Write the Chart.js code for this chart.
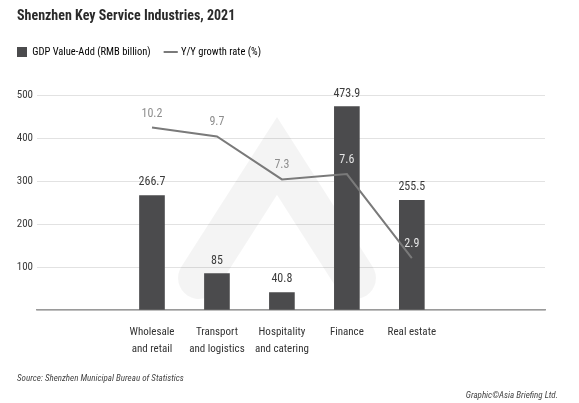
<!DOCTYPE html>
<html>
<head>
<meta charset="utf-8">
<script src="https://cdn.jsdelivr.net/npm/chart.js@4.4.0/dist/chart.umd.min.js"></script>
<style>
    html, body { margin: 0; padding: 0; background: #fff; }
    #wrap { width: 579px; height: 403px; position: relative; }
</style>
</head>
<body>
<div id="wrap"><canvas id="chart"></canvas></div>
<script>
const categories = [
    ['Wholesale', 'and retail'],
    ['Transport', 'and logistics'],
    ['Hospitality', 'and catering'],
    ['Finance'],
    ['Real estate']
];
const gdpValues = [266.7, 85, 40.8, 473.9, 255.5];
const growthRates = [10.2, 9.7, 7.3, 7.6, 2.9];
const yTickValues = [100, 200, 300, 400, 500];

const FONT = "'Roboto Condensed', 'DejaVu Sans Condensed', sans-serif";
Chart.defaults.font.family = FONT;
Chart.defaults.color = '#3a3a3a';

// extra room between legend and plot, and pull legend to the left edge
const legendGap = {
    id: 'legendGap',
    beforeInit(chart) {
        const fit = chart.legend.fit;
        chart.legend.fit = function () {
            fit.call(this);
            this.height += 28;
        };
    },
    afterLayout(chart) {
        chart.legend.left -= 15;
        chart.legend.right -= 15;
    }
};

// faint logo behind the bars
const watermark = {
    id: 'watermark',
    beforeDatasetsDraw(chart) {
        const ctx = chart.ctx;
        ctx.save();
        ctx.strokeStyle = 'rgba(0,0,0,0.045)';
        ctx.lineWidth = 42;
        ctx.lineCap = 'round';
        ctx.lineJoin = 'miter';
        ctx.beginPath();
        ctx.moveTo(199, 278);
        ctx.lineTo(277, 156);
        ctx.lineTo(355, 278);
        ctx.stroke();
        ctx.restore();
    }
};

const valueLabels = {
    id: 'valueLabels',
    afterDatasetsDraw(chart) {
        const ctx = chart.ctx;
        const bars = chart.getDatasetMeta(0).data;
        const pts = chart.getDatasetMeta(1).data;
        ctx.save();
        ctx.textAlign = 'center';
        ctx.textBaseline = 'middle';
        ctx.font = '12px ' + FONT;
        bars.forEach((b, i) => {
            ctx.fillStyle = '#3c3c3c';
            ctx.fillText(String(gdpValues[i]), b.x, b.y - 13);
        });
        pts.forEach((p, i) => {
            const ly = p.y - 14;
            const b = bars[i];
            const inBar = Math.abs(b.x - p.x) < b.width / 2 && ly > b.y;
            ctx.fillStyle = inBar ? '#e4e4e4' : '#8e8e8e';
            ctx.fillText(growthRates[i].toFixed(1), p.x, ly);
        });
        ctx.restore();
    },
    afterDraw(chart) {
        const ctx = chart.ctx;
        ctx.save();
        ctx.fillStyle = '#444';
        ctx.font = 'italic 9px ' + FONT;
        ctx.textBaseline = 'middle';
        ctx.textAlign = 'left';
        ctx.fillText('Source: Shenzhen Municipal Bureau of Statistics', 17, 379);
        ctx.textAlign = 'right';
        ctx.fillText('Graphic\u00A9Asia Briefing Ltd.', 558, 396);
        ctx.restore();
    }
};

new Chart(document.getElementById('chart'), {
    type: 'bar',
    data: {
        datasets: [{
            type: 'bar',
            label: 'GDP Value-Add (RMB billion)',
            data: gdpValues.map((v, i) => ({ x: i, y: v })),
            backgroundColor: '#4b4b4d',
            borderWidth: 0,
            barThickness: 25,
            yAxisID: 'y',
            order: 2
        }, {
            type: 'line',
            label: 'Y/Y growth rate (%)',
            data: growthRates.map((v, i) => ({ x: i, y: v })),
            borderColor: '#7a7a7a',
            backgroundColor: '#7a7a7a',
            borderWidth: 2,
            pointRadius: 0,
            tension: 0,
            yAxisID: 'y2',
            order: 1
        }]
    },
    options: {
        responsive: true,
        maintainAspectRatio: false,
        animation: false,
        layout: { padding: { left: 17, right: 34, top: 8, bottom: 43 } },
        plugins: {
            title: {
                display: true,
                text: 'Shenzhen Key Service Industries, 2021',
                align: 'start',
                color: '#2a2a2a',
                font: { size: 14, weight: 'bold' },
                padding: { top: 0, bottom: 7 }
            },
            legend: {
                align: 'start',
                labels: {
                    usePointStyle: true,
                    boxWidth: 10,
                    boxHeight: 10,
                    padding: 15,
                    color: '#3a3a3a',
                    font: { size: 10.5 },
                    generateLabels(chart) {
                        return chart.data.datasets.map((ds, i) => ({
                            text: ds.label,
                            fillStyle: ds.backgroundColor,
                            strokeStyle: i === 0 ? ds.backgroundColor : ds.borderColor,
                            lineWidth: i === 0 ? 0 : 2,
                            pointStyle: i === 0 ? 'rect' : 'line',
                            datasetIndex: i,
                            hidden: false
                        }));
                    }
                }
            },
            tooltip: { enabled: false }
        },
        scales: {
            x: {
                type: 'linear',
                offset: false,
                min: -1.77,
                max: 6.05,
                grid: { display: false, drawTicks: false },
                border: { display: true, color: '#9a9a9a', width: 1.5 },
                afterBuildTicks(scale) {
                    scale.ticks = categories.map((c, i) => ({ value: i }));
                },
                afterFit(scale) { scale.height = 50; },
                ticks: {
                    padding: 14,
                    autoSkip: false,
                    maxRotation: 0,
                    color: '#333',
                    font: { size: 11, lineHeight: 1.5 },
                    callback: (v) => categories[v] || ''
                }
            },
            y: {
                min: 0,
                max: 500,
                grid: { color: '#e2e2e2', lineWidth: 1, drawTicks: false },
                border: { display: false },
                afterBuildTicks(scale) {
                    scale.ticks = [0].concat(yTickValues).map(v => ({ value: v }));
                },
                afterFit(scale) { scale.width = 20; },
                ticks: {
                    padding: 4,
                    color: '#3a3a3a',
                    font: { size: 11 },
                    callback: (v) => (v === 0 ? '' : v)
                }
            },
            y2: {
                display: false,
                min: 0,
                max: 12
            }
        }
    },
    plugins: [legendGap, watermark, valueLabels]
});
</script>
</body>
</html>
